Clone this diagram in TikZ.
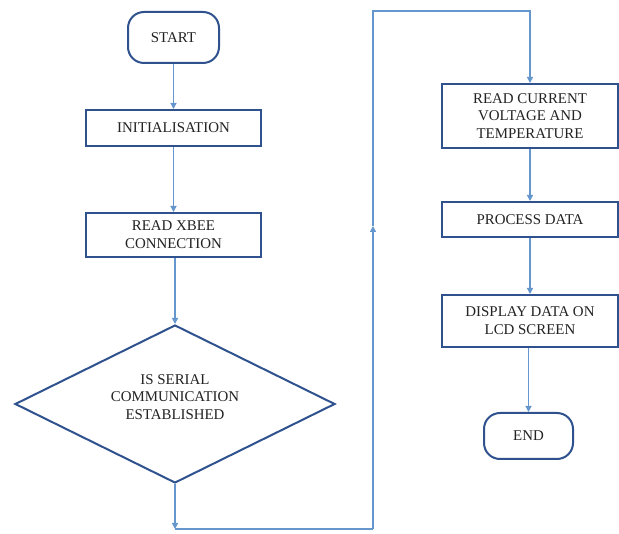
\documentclass[tikz,border=0pt]{standalone}
\usepackage{fontspec}
\setmainfont{Liberation Serif}
\usetikzlibrary{shapes.geometric,arrows.meta}
\definecolor{lineblue}{RGB}{101,150,205}
\definecolor{boxblue}{RGB}{47,82,143}
\definecolor{txt}{RGB}{35,35,35}
\begin{document}
\begin{tikzpicture}[x=1pt,y=-1pt,
  lbl/.style={text=txt, font=\fontsize{14.9}{17.8}\selectfont, align=center, inner sep=0pt},
  box/.style={lbl, draw=boxblue, line width=2pt, fill=white},
  term/.style={box, rounded corners=16pt},
  dec/.style={box, shape=diamond, minimum width=320pt, minimum height=158pt},
  conn/.style={draw=lineblue, line width=1.3pt},
  flow/.style={conn, -{Triangle[length=6pt,width=6pt]}}]
\useasboundingbox (0,0) rectangle (619,534);
\node[term, minimum width=91pt, minimum height=51pt] (start) at (173.5,37.5) {START};
\node[box, minimum width=175pt, minimum height=36pt] (init) at (173.5,128) {INITIALISATION};
\node[box, minimum width=175pt, minimum height=44pt] (xbee) at (173.5,235) {READ XBEE\\CONNECTION};
\node[dec] (dia) at (175,404) {};
\node[lbl] (diatext) at (175,397) {IS SERIAL\\COMMUNICATION\\ESTABLISHED};
\node[box, minimum width=176pt, minimum height=64pt] (readc) at (530,116) {READ CURRENT\\VOLTAGE AND\\TEMPERATURE};
\node[box, minimum width=176pt, minimum height=35pt] (proc) at (530,219.5) {PROCESS DATA};
\node[box, minimum width=176pt, minimum height=52pt] (disp) at (530,321) {DISPLAY DATA ON\\LCD SCREEN};
\node[term, minimum width=89pt, minimum height=46pt] (end) at (528.5,436) {END};
\coordinate (c1) at (175,529);
\coordinate (c2) at (373,529);
\coordinate (cm) at (373,226);
\coordinate (c3) at (373,11);
\coordinate (c4) at (530,11);
\draw[flow] (start) -- (init);
\draw[flow] (init) -- (xbee);
\draw[flow] (dia.north |- xbee.south) -- (dia.north);
\draw[flow] (dia.south) -- (c1);
\draw[conn] (c1) -- (c2);
\draw[flow] (c2) -- (cm);
\draw[flow] (cm) -- (c3) -- (c4) -- (readc.north);
\draw[flow] (readc) -- (proc);
\draw[flow] (proc) -- (disp);
\draw[flow] (disp.south -| end.north) -- (end.north);
\end{tikzpicture}
\end{document}
